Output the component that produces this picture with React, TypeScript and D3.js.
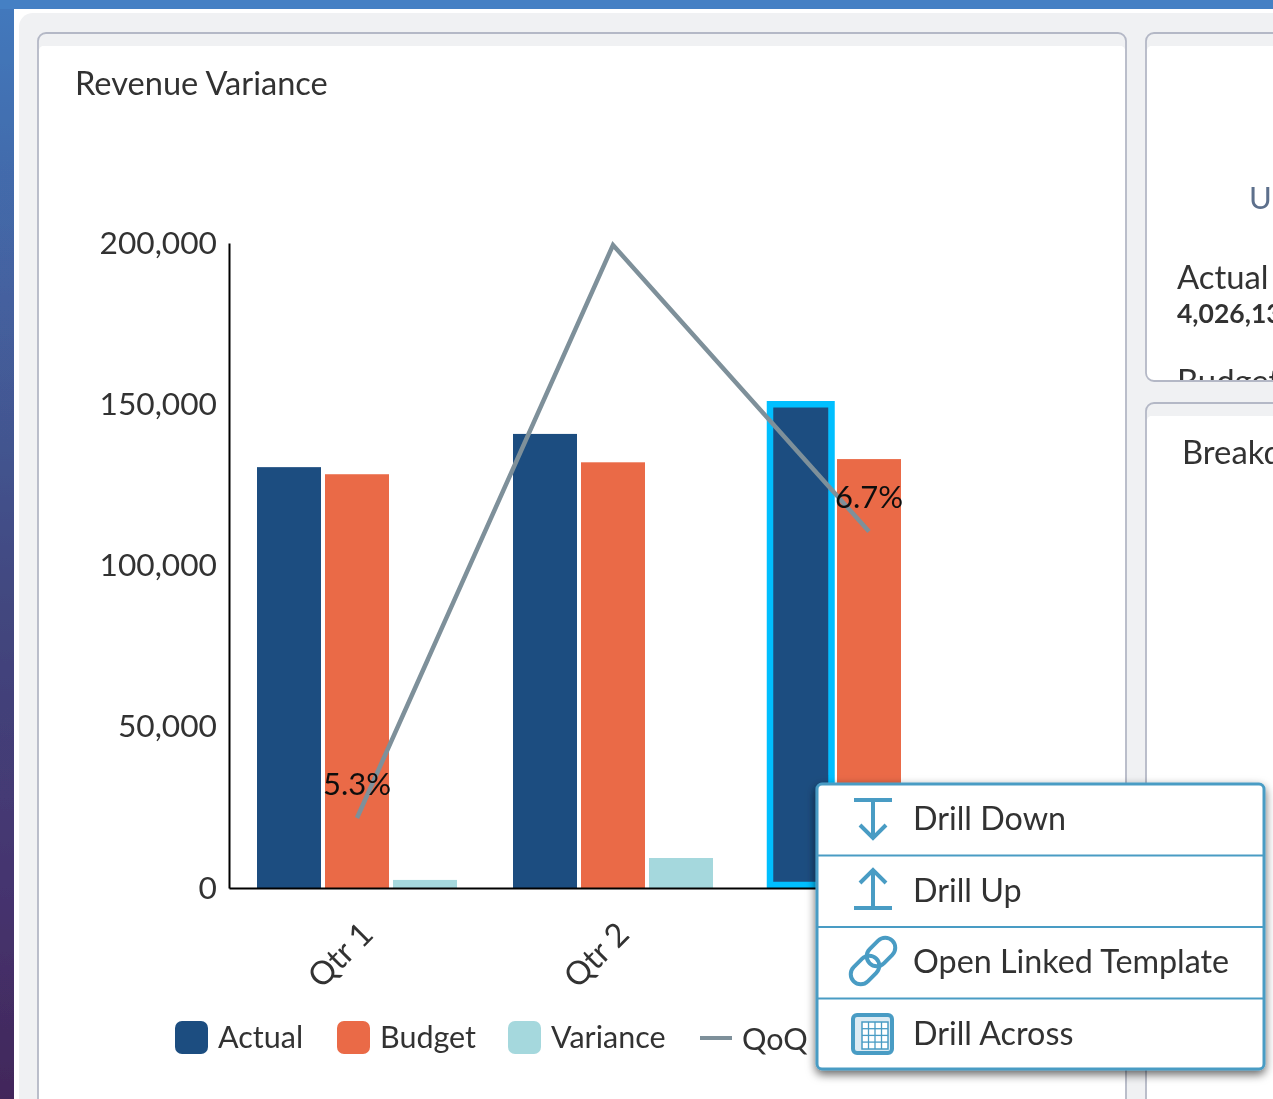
import React, { useEffect, useRef } from "react";
import * as d3 from "d3";

const categories = ["Qtr 1", "Qtr 2", "Qtr 3"];
const seriesNames = ["Actual", "Budget", "Variance"];
const actual = [130500, 140800, 150000];
const budget = [128300, 132000, 133000];
const variance = [2500, 9300, 17000];
const qoq = [5.3, 8.1, 6.7];
const qoqLabels = ["5.3%", "", "6.7%"];
const yTicks = [0, 50000, 100000, 150000, 200000];
const legendNames = ["Actual", "Budget", "Variance", "QoQ %"];
const menuItems = ["Drill Down", "Drill Up", "Open Linked Template", "Drill Across"];

const colors = ["#1c4e80", "#ea6a47", "#a5d8dd"];
const lineColor = "#7e909a";
const menuBlue = "#4a9cc4";
const textColor = "#333";
const font = "Lato, sans-serif";

const width = 1273;
const height = 1099;

export default function App() {
  const ref = useRef<SVGSVGElement>(null);

  useEffect(() => {
    const svg = d3.select(ref.current);
    svg.selectAll("*").remove();

    const defs = svg.append("defs");
    const grad = defs.append("linearGradient").attr("id", "bg").attr("x1", 0).attr("y1", 0).attr("x2", 0).attr("y2", 1);
    grad.append("stop").attr("offset", "0%").attr("stop-color", "#4279bd");
    grad.append("stop").attr("offset", "27%").attr("stop-color", "#44619f");
    grad.append("stop").attr("offset", "55%").attr("stop-color", "#42477f");
    grad.append("stop").attr("offset", "82%").attr("stop-color", "#45336e");
    grad.append("stop").attr("offset", "100%").attr("stop-color", "#42275a");
    const shadow = defs.append("filter").attr("id", "shadow").attr("x", "-6%").attr("y", "-10%").attr("width", "112%").attr("height", "125%");
    shadow.append("feDropShadow").attr("dx", 0).attr("dy", 4).attr("stdDeviation", 5).attr("flood-color", "#000").attr("flood-opacity", 0.6);
    const soft = defs.append("filter").attr("id", "soft").attr("x", 0).attr("y", 0).attr("width", "100%").attr("height", "100%");
    soft.append("feGaussianBlur").attr("stdDeviation", 0.6);

    const root = svg.append("g").attr("filter", "url(#soft)");

    // page frame
    root.append("rect").attr("width", width).attr("height", height).attr("fill", "url(#bg)");
    root.append("rect").attr("width", width).attr("height", 9).attr("fill", "#4480c4");
    root.append("rect").attr("x", 14).attr("y", 9).attr("width", width).attr("height", height).attr("fill", "#fff");
    root.append("rect").attr("x", 19).attr("y", 13).attr("width", width + 20).attr("height", height + 20).attr("rx", 14).attr("fill", "#f0f1f3");

    // cards
    const cards = [
      { x: 38, y: 33, w: 1088, h: 1100 },
      { x: 1146, y: 33, w: 160, h: 348 },
      { x: 1146, y: 403, w: 160, h: 730 },
    ];
    cards.forEach((c) => {
      root.append("rect").attr("x", c.x).attr("y", c.y + 12).attr("width", c.w).attr("height", c.h - 12).attr("rx", 8).attr("fill", "#fff");
      root.append("path")
        .attr("d", `M${c.x},${c.y + 13}V${c.y + 8}Q${c.x},${c.y} ${c.x + 8},${c.y}H${c.x + c.w - 8}Q${c.x + c.w},${c.y} ${c.x + c.w},${c.y + 8}V${c.y + 13}Z`)
        .attr("fill", "#f0f1f3");
      root.append("rect").attr("x", c.x).attr("y", c.y).attr("width", c.w).attr("height", c.h).attr("rx", 8)
        .attr("fill", "none").attr("stroke", "#b4b8c6").attr("stroke-width", 1.8);
    });

    const addText = (x: number, y: number, t: string, size: number, anchor = "start", weight = 400, fill = textColor) =>
      root.append("text").attr("x", x).attr("y", y).attr("font-family", font).attr("font-size", size)
        .attr("text-anchor", anchor).attr("font-weight", weight).attr("fill", fill).text(t);

    addText(75, 95, "Revenue Variance", 32.6);

    // right cards are cut off by the window
    addText(1249, 209, "U", 31, "start", 400, "#5d6f8c");
    addText(1177, 289, "Actual", 32.8);
    addText(1177, 323, "4,026,13", 26.5, "start", 700);
    const clip = defs.append("clipPath").attr("id", "cardClip");
    clip.append("rect").attr("x", 1146).attr("y", 33).attr("width", 160).attr("height", 347);
    root.append("text").attr("x", 1177).attr("y", 393).attr("font-family", font).attr("font-size", 32.8).attr("fill", textColor)
      .attr("clip-path", "url(#cardClip)").text("Budget");
    addText(1182, 464, "Breakdown", 32.8);

    // chart
    const x0 = d3.scaleBand().domain(categories).range([229, 997]).paddingInner(0.21875).paddingOuter(0.109375);
    const x1 = d3.scaleBand().domain(seriesNames).range([0, x0.bandwidth()]).paddingInner(0.0588);
    const y = d3.scaleLinear().domain([0, 200000]).range([888, 243]);
    const yQoq = d3.scaleLinear().domain([5.3, 8.1]).range([818, 245]);
    const values = [actual, budget, variance];

    seriesNames.forEach((name, s) => {
      root.append("g").selectAll("rect").data(values[s]).join("rect")
        .attr("x", (_, i) => x0(categories[i])! + x1(name)!)
        .attr("y", (d) => y(d))
        .attr("width", x1.bandwidth())
        .attr("height", (d) => y(0) - y(d))
        .attr("fill", colors[s]);
    });

    // selected bar outline
    root.append("rect")
      .attr("x", x0(categories[2])! + x1("Actual")! + 1)
      .attr("y", y(actual[2]))
      .attr("width", x1.bandwidth() - 2.5)
      .attr("height", y(0) - y(actual[2]) - 3)
      .attr("fill", "none").attr("stroke", "#00bfff").attr("stroke-width", 6.5);

    const yAxis = d3.axisLeft(y).tickValues(yTicks).tickSize(0).tickPadding(12).tickFormat(d3.format(","));
    const yG = root.append("g").attr("transform", "translate(229,0)").call(yAxis);
    yG.select(".domain").attr("stroke", "#000").attr("stroke-width", 2);
    yG.selectAll("text").attr("font-family", font).attr("font-size", 31.7).attr("fill", textColor).attr("dy", "0.32em");

    const xAxis = d3.axisBottom(x0).tickSize(0).tickFormat(() => "");
    const xG = root.append("g").attr("transform", "translate(0,888)").call(xAxis);
    xG.select(".domain").attr("stroke", "#000").attr("stroke-width", 2);
    categories.forEach((c) => {
      const cx = x0(c)! + x0.bandwidth() / 2;
      root.append("text").attr("transform", `translate(${cx + 2},920) rotate(-45)`)
        .attr("text-anchor", "end").attr("dy", "0.7em").attr("font-family", font).attr("font-size", 32.5).attr("fill", textColor).text(c);
    });

    // QoQ line and its labels
    const line = d3.line<number>()
      .x((_, i) => x0(categories[i])! + x0.bandwidth() / 2)
      .y((d) => yQoq(d));
    root.append("path").datum(qoq).attr("d", line).attr("fill", "none").attr("stroke", lineColor).attr("stroke-width", 4.5);
    qoq.forEach((d, i) => {
      const cx = x0(categories[i])! + x0.bandwidth() / 2;
      addText(cx, yQoq(d) - 23.5, qoqLabels[i], 31, "middle", 400, "#111");
    });

    // legend
    const legendX = [175, 337, 508];
    seriesNames.forEach((name, i) => {
      root.append("rect").attr("x", legendX[i]).attr("y", 1021).attr("width", 33).attr("height", 33).attr("rx", 7).attr("fill", colors[i]);
      addText(legendX[i] + 43, 1047.5, legendNames[i], 30.5);
    });
    root.append("rect").attr("x", 700).attr("y", 1036).attr("width", 32).attr("height", 4).attr("fill", lineColor);
    addText(742, 1050, legendNames[3], 30.5);

    // context menu
    const menu = root.append("g");
    menu.append("rect").attr("x", 817).attr("y", 784).attr("width", 447).attr("height", 285).attr("rx", 5)
      .attr("fill", "#fff").attr("stroke", menuBlue).attr("stroke-width", 3).attr("filter", "url(#shadow)");
    menuItems.forEach((t, i) => {
      const rowY = 784 + i * 71.5;
      addText(913, rowY + 46, t, 32.3);
      if (i > 0) menu.append("line").attr("x1", 817).attr("x2", 1264).attr("y1", rowY).attr("y2", rowY).attr("stroke", menuBlue).attr("stroke-width", 2);
    });
    const icon = root.append("g").attr("fill", "none").attr("stroke", menuBlue).attr("stroke-width", 4);
    icon.append("path").attr("d", "M854,800H892M873,800V836M860,825L873,838L886,825");
    icon.append("path").attr("d", "M854,908H892M873,908V872M860,883L873,870L886,883");
    icon.append("rect").attr("x", -16).attr("y", -10).attr("width", 32).attr("height", 20).attr("rx", 10).attr("transform", "translate(865,970) rotate(-45)");
    icon.append("rect").attr("x", -16).attr("y", -10).attr("width", 32).attr("height", 20).attr("rx", 10).attr("transform", "translate(881,952) rotate(-45)");
    const grid = root.append("g").attr("fill", "none").attr("stroke", menuBlue);
    grid.append("rect").attr("x", 853).attr("y", 1015).attr("width", 39).attr("height", 38).attr("rx", 4).attr("stroke-width", 4).attr("fill", "#dcebf3");
    grid.append("rect").attr("x", 862).attr("y", 1022).attr("width", 26).attr("height", 27).attr("fill", "#fff").attr("stroke-width", 1.5);
    d3.range(1, 4).forEach((k) => {
      grid.append("line").attr("x1", 862 + k * 6.5).attr("x2", 862 + k * 6.5).attr("y1", 1022).attr("y2", 1049).attr("stroke-width", 1.3);
      grid.append("line").attr("x1", 862).attr("x2", 888).attr("y1", 1022 + k * 6.7).attr("y2", 1022 + k * 6.7).attr("stroke-width", 1.3);
    });
  }, []);

  return <svg ref={ref} width={width} height={height} style={{ position: "absolute", left: 0, top: 0 }} />;
}
